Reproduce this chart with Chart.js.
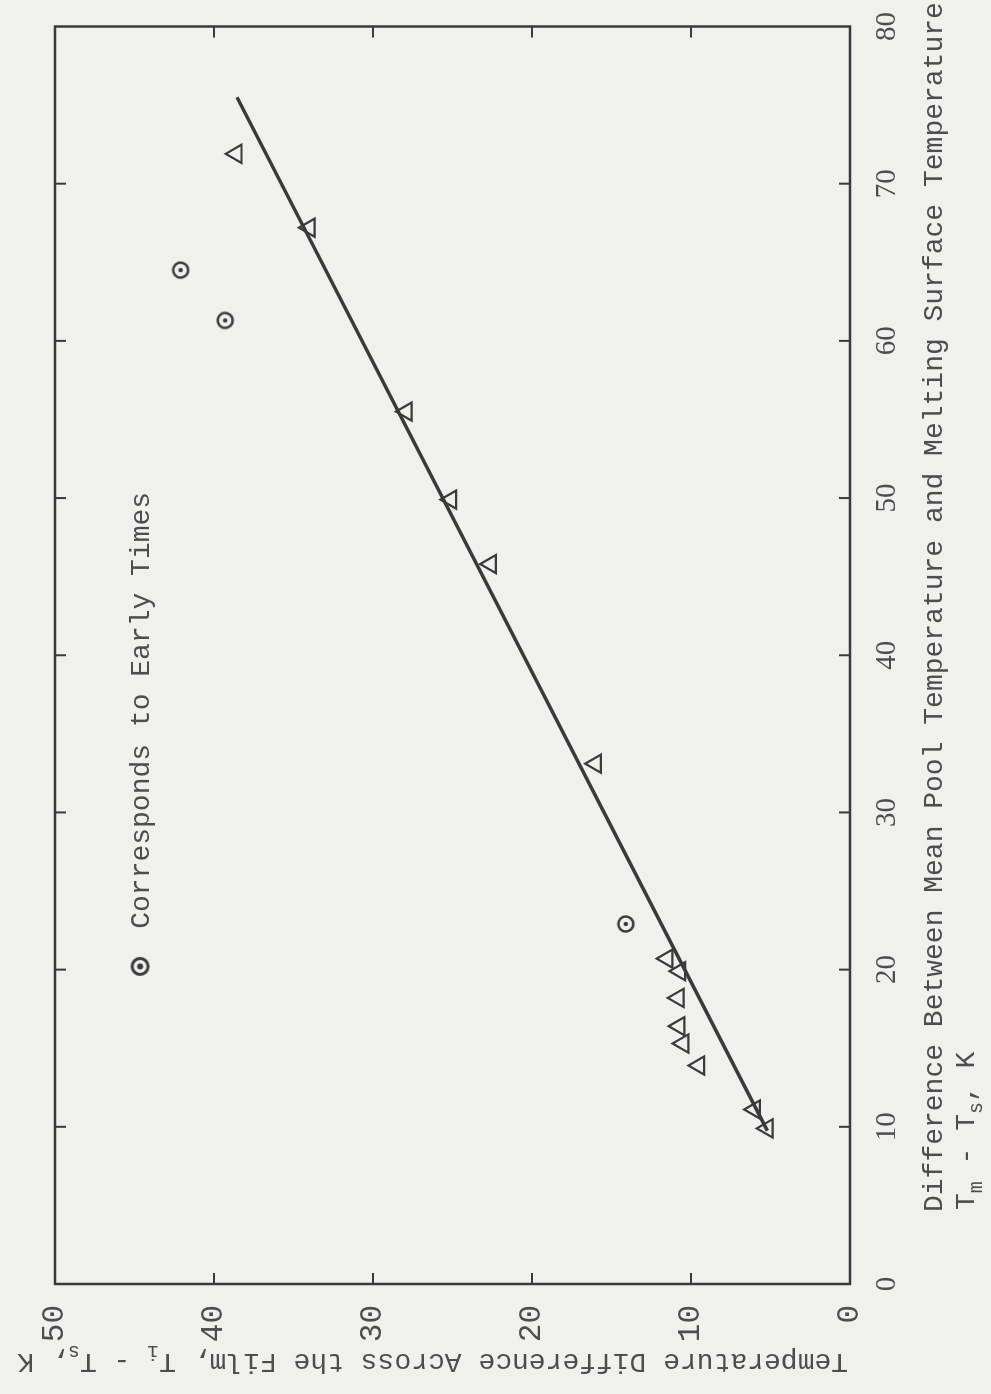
<!DOCTYPE html>
<html><head><meta charset="utf-8">
<script src="https://cdn.jsdelivr.net/npm/chart.js@4/dist/chart.umd.min.js"></script>
<style>
html,body{margin:0;padding:0;background:#f0f0ef;overflow:hidden;width:991px;height:1394px;}
#wrap{position:absolute;left:0;top:0;width:1394px;height:991px;transform-origin:0 0;transform:translate(0px,1394px) rotate(-90deg);}
canvas{display:block;}
</style></head><body>
<div id="wrap"><canvas id="c" width="1394" height="991"></canvas></div>
<script>
// Tick labels
const xTicks = [0, 10, 20, 30, 40, 50, 60, 70, 80];
const yTicks = [0, 10, 20, 30, 40, 50];
// Triangles (later times)
const triX = [71.9, 67.2, 55.5, 49.9, 45.8, 33.1, 20.7, 19.9, 18.2, 16.4, 15.3, 13.9, 11.1, 9.9];
const triY = [38.6, 34.0, 27.9, 25.1, 22.6, 16.0, 11.5, 10.7, 10.8, 10.75, 10.5, 9.5, 6.0, 5.2];
// Circles: early times
const earlyX = [64.5, 61.3, 22.9];
const earlyY = [42.1, 39.3, 14.1];
// Fitted straight line end points
const fitX = [9.75, 75.5];
const fitY = [5.2, 38.55];
// Texts
const xTitleLine1 = 'Difference Between Mean Pool Temperature and Melting Surface Temperature';
const legendText = 'Corresponds to Early Times';

const INK = '#3a3a3a';
const TXT = '#4d4d4d';
const MONO = '"Liberation Mono", "DejaVu Sans Mono", monospace';
const SERIF = '"Liberation Serif", "DejaVu Serif", serif';

function circleMarker(r, lw, fillInner) {
  const s = Math.ceil(2 * r + lw + 4);
  const c = document.createElement('canvas');
  c.width = s; c.height = s;
  const g = c.getContext('2d');
  g.strokeStyle = INK; g.lineWidth = lw;
  g.beginPath(); g.arc(s / 2, s / 2, r, 0, Math.PI * 2); g.stroke();
  g.fillStyle = INK;
  g.beginPath(); g.arc(s / 2, s / 2, fillInner, 0, Math.PI * 2); g.fill();
  return c;
}
const earlyMark = circleMarker(7.5, 2.5, 2.2);
const legendMark = circleMarker(8, 3, 3);

function pts(xs, ys) { return xs.map((v, i) => ({ x: v, y: ys[i] })); }

function drawRun(ctx, parts, x, y, size) {
  let cx = x;
  parts.forEach(p => {
    const fs = p.sub ? Math.round(size * 0.7) : size;
    ctx.font = fs + 'px ' + MONO;
    ctx.fillText(p.t, cx, y + (p.sub ? size * 0.3 : 0));
    cx += ctx.measureText(p.t).width;
  });
}

const decor = {
  id: 'decor',
  afterDatasetsDraw(chart) {
    const { ctx, chartArea: a, scales: { x, y } } = chart;
    ctx.save();
    ctx.strokeStyle = INK;
    ctx.lineWidth = 2.5;
    ctx.strokeRect(a.left, a.top, a.right - a.left, a.bottom - a.top);
    ctx.lineWidth = 2;
    const L = 11;
    const seg = (x1, y1, x2, y2) => { ctx.beginPath(); ctx.moveTo(x1, y1); ctx.lineTo(x2, y2); ctx.stroke(); };
    xTicks.slice(1, -1).forEach(v => {
      const p = x.getPixelForValue(v);
      seg(p, a.bottom, p, a.bottom - L);
      seg(p, a.top, p, a.top + L);
    });
    yTicks.slice(1, -1).forEach(v => {
      const p = y.getPixelForValue(v);
      seg(a.left, p, a.left + L, p);
      seg(a.right, p, a.right - L, p);
    });
    // legend inside plot
    const lx = x.getPixelForValue(20.2), ly = y.getPixelForValue(44.65);
    ctx.drawImage(legendMark, lx - legendMark.width / 2, ly - legendMark.height / 2);
    ctx.fillStyle = TXT;
    ctx.textBaseline = 'alphabetic';
    ctx.textAlign = 'left';
    ctx.font = '28px ' + MONO;
    ctx.fillText(legendText, x.getPixelForValue(22.6), ly + 9);
    ctx.restore();
  },
  afterDraw(chart) {
    const { ctx, chartArea: a } = chart;
    ctx.save();
    ctx.fillStyle = TXT;
    ctx.textAlign = 'left';
    ctx.textBaseline = 'alphabetic';
    // x-axis title, two lines
    ctx.font = '28px ' + MONO;
    ctx.fillText(xTitleLine1, 182, 942);
    drawRun(ctx, [{ t: 'T' }, { t: 'm', sub: true }, { t: ' - T' }, { t: 's', sub: true }, { t: ', K' }], 184, 974, 28);
    // y-axis title, rotated
    ctx.translate(40, 848);
    ctx.rotate(-Math.PI / 2);
    drawRun(ctx, [{ t: 'Temperature Difference Across the Film, T' }, { t: 'i', sub: true }, { t: ' - T' }, { t: 's', sub: true }, { t: ', K' }], 0, 0, 28);
    ctx.restore();
  }
};

new Chart(document.getElementById('c'), {
  type: 'scatter',
  data: {
    datasets: [
      {
        type: 'line', data: pts(fitX, fitY), borderColor: INK, borderWidth: 3.5,
        pointRadius: 0, fill: false, order: 3
      },
      {
        data: pts(triX, triY), pointStyle: 'triangle', radius: 10.5, borderWidth: 2.2,
        borderColor: INK, backgroundColor: 'rgba(0,0,0,0)', order: 1
      },
      {
        data: pts(earlyX, earlyY), pointStyle: earlyMark, radius: 8, order: 2
      }
    ]
  },
  options: {
    responsive: false, animation: false, devicePixelRatio: 1,
    layout: { padding: { top: 55, right: 20, left: 0, bottom: 0 } },
    plugins: { legend: { display: false }, tooltip: { enabled: false } },
    scales: {
      x: {
        type: 'linear', min: 0, max: 80, position: 'bottom',
        afterBuildTicks: s => { s.ticks = xTicks.map(v => ({ value: v })); },
        afterFit: s => { s.height = 141; },
        grid: { display: false }, border: { display: false },
        ticks: { color: TXT, font: { family: SERIF, size: 29 }, padding: 12, maxRotation: 0 }
      },
      y: {
        type: 'linear', min: 0, max: 50, position: 'left',
        afterBuildTicks: s => { s.ticks = yTicks.map(v => ({ value: v })); },
        afterFit: s => { s.width = 110; },
        grid: { display: false }, border: { display: false },
        ticks: { color: TXT, font: { family: MONO, size: 31 }, padding: 13 }
      }
    }
  },
  plugins: [decor]
});
</script>
</body></html>
